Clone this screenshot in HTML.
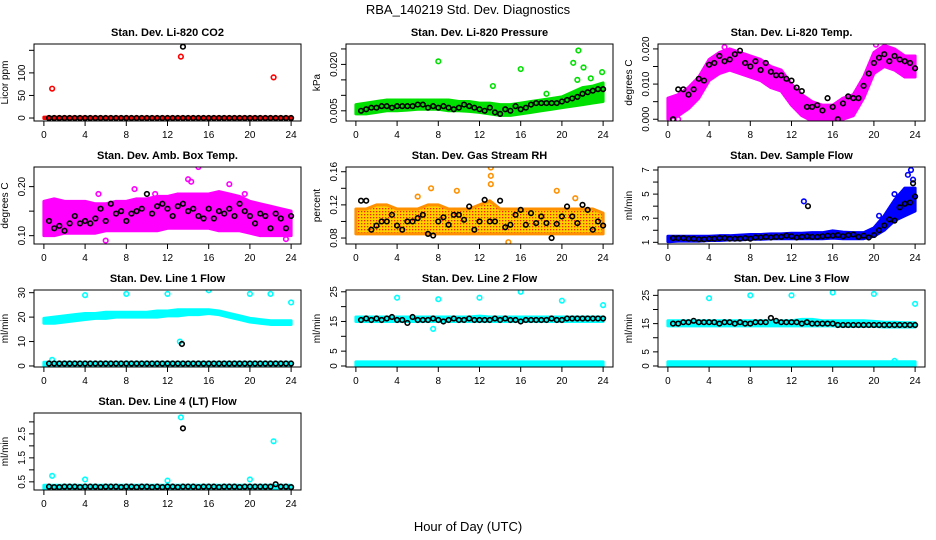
<!DOCTYPE html>
<html><head><meta charset="utf-8">
<style>
html,body{margin:0;padding:0;background:#fff;}
svg{display:block;font-family:"Liberation Sans",sans-serif;}
</style></head>
<body>
<svg id="chart" width="936" height="540" viewBox="0 0 936 540">
<text x="468" y="14" text-anchor="middle" font-size="13">RBA_140219  Std. Dev. Diagnostics</text>
<text x="468" y="531" text-anchor="middle" font-size="13">Hour of Day (UTC)</text>
<defs>
<pattern id="rhpat" width="3" height="3" patternUnits="userSpaceOnUse">
<rect width="3" height="3" fill="#ffd000"/><rect x="1" y="1" width="1.3" height="1.3" fill="#ff2000"/>
</pattern>
</defs>
</svg>
<script>
// ---------- data ----------
const hours = [0,1,2,3,4,5,6,7,8,9,10,11,12,13,14,15,16,17,18,19,20,21,22,23,24];
const xTicks = [0,4,8,12,16,20,24];

const co2Lo = [-1,-1,-1,-1,-1,-1,-1,-1,-1,-1,-1,-1,-1,-1,-1,-1,-1,-1,-1,-1,-1,-1,-1,-1,-1];
const co2Hi = [2,2,2,2,2,2,2,2,2,2,2,2,2,2,2,2,2,2,2,2,2,2,2,2,2];
const co2Black = [0,0,0,0,0,0,0,0,0,0,0,0,0,0,0,0,0,0,0,0,0,0,0,0,0,0,0,0,0,0,0,0,0,0,0,0,0,0,0,0,0,0,0,0,0,0,0,0];
const co2OutH = [0.8,13.3,22.3];
const co2OutV = [65,136,90];
const co2BOutH = [13.5];
const co2BOutV = [158];

const presLo = [0.004,0.004,0.0045,0.005,0.005,0.0052,0.0055,0.0055,0.0055,0.005,0.005,0.0048,0.0045,0.004,0.0035,0.0035,0.004,0.0045,0.005,0.0055,0.006,0.0065,0.007,0.0075,0.008];
const presHi = [0.007,0.0075,0.008,0.0085,0.0085,0.0085,0.0085,0.0085,0.0085,0.0085,0.008,0.008,0.0075,0.0075,0.007,0.007,0.0075,0.008,0.0085,0.009,0.0095,0.011,0.0125,0.013,0.014];
const presBlack = [0.005,0.0055,0.006,0.006,0.0065,0.0065,0.006,0.0065,0.0065,0.0065,0.0065,0.007,0.007,0.006,0.0065,0.006,0.0065,0.006,0.0055,0.006,0.007,0.0065,0.006,0.0055,0.005,0.006,0.0045,0.004,0.0055,0.005,0.0065,0.0055,0.006,0.007,0.0075,0.0075,0.0075,0.0075,0.0075,0.008,0.0085,0.009,0.0095,0.0105,0.011,0.0115,0.012,0.012];
const presOutH = [8,13.3,16,21.1,21.6,22.1,23.9,21.5,22.8,18.5];
const presOutV = [0.021,0.013,0.0185,0.0205,0.0245,0.019,0.0175,0.015,0.0155,0.0105];

const tempLo = [0.0,0.001,0.003,0.006,0.011,0.013,0.014,0.013,0.012,0.011,0.009,0.008,0.004,0.001,-0.0005,-0.0005,-0.0005,0.0,0.001,0.006,0.013,0.015,0.014,0.012,0.012];
const tempHi = [0.006,0.007,0.009,0.012,0.017,0.019,0.020,0.019,0.018,0.017,0.015,0.014,0.010,0.007,0.005,0.004,0.004,0.006,0.007,0.012,0.019,0.021,0.020,0.018,0.018];
const tempBlack = [0.000,0.0085,0.0085,0.007,0.0085,0.0115,0.011,0.0155,0.016,0.018,0.0165,0.017,0.0185,0.0195,0.016,0.015,0.0165,0.014,0.016,0.0135,0.0125,0.0125,0.0115,0.011,0.009,0.008,0.0035,0.0035,0.004,0.0025,0.006,0.0035,0.0000,0.0045,0.0065,0.006,0.006,0.0095,0.013,0.016,0.0175,0.0185,0.0165,0.018,0.017,0.0165,0.016,0.0145];
const tempOutH = [0.5,1.0,14.5,15.8,16.5,5.5,20.2];
const tempOutV = [0.0,0.0,0.0,0.0,0.0,0.0205,0.0212];

const ambLo = [0.10,0.10,0.105,0.105,0.105,0.105,0.11,0.11,0.11,0.11,0.11,0.11,0.115,0.115,0.115,0.115,0.115,0.11,0.11,0.11,0.105,0.10,0.10,0.10,0.10];
const ambHi = [0.17,0.175,0.17,0.17,0.17,0.165,0.165,0.17,0.17,0.175,0.175,0.18,0.18,0.185,0.185,0.185,0.185,0.19,0.185,0.18,0.17,0.165,0.16,0.155,0.15];
const ambBlack = [0.13,0.115,0.12,0.11,0.125,0.14,0.125,0.13,0.125,0.135,0.155,0.13,0.165,0.145,0.15,0.13,0.145,0.15,0.155,0.185,0.145,0.16,0.165,0.155,0.14,0.16,0.165,0.15,0.155,0.14,0.135,0.155,0.135,0.15,0.145,0.155,0.14,0.165,0.15,0.14,0.125,0.145,0.14,0.115,0.145,0.135,0.115,0.14];
const ambOutH = [14,14.3,15,18,6,23.5,0.5,8.8,19.5,5.3,10.8];
const ambOutV = [0.215,0.21,0.24,0.205,0.09,0.093,0.105,0.195,0.185,0.185,0.185];

const rhLo = [0.085,0.085,0.085,0.085,0.085,0.085,0.085,0.085,0.085,0.085,0.085,0.085,0.085,0.085,0.085,0.085,0.085,0.085,0.085,0.085,0.085,0.085,0.085,0.085,0.085];
const rhHi = [0.115,0.115,0.12,0.12,0.115,0.115,0.115,0.12,0.12,0.115,0.115,0.115,0.12,0.125,0.115,0.115,0.115,0.115,0.115,0.115,0.115,0.115,0.115,0.115,0.11];
const rhBlack = [0.125,0.125,0.09,0.095,0.1,0.1,0.108,0.095,0.09,0.1,0.1,0.104,0.108,0.085,0.083,0.1,0.105,0.096,0.108,0.108,0.102,0.118,0.09,0.1,0.126,0.1,0.1,0.125,0.093,0.096,0.108,0.114,0.096,0.11,0.098,0.106,0.098,0.08,0.097,0.106,0.118,0.106,0.098,0.12,0.114,0.09,0.1,0.095];
const rhOutH = [13.1,13.1,13.1,7.3,9.8,19.5,14.8,6,21.3];
const rhOutV = [0.165,0.155,0.145,0.14,0.137,0.137,0.075,0.13,0.128];

const flowLo = [1.05,1.1,1.1,1.1,1.15,1.15,1.2,1.2,1.25,1.25,1.3,1.3,1.3,1.3,1.3,1.3,1.35,1.3,1.3,1.3,1.5,2.0,2.8,3.2,3.6];
const flowHi = [1.5,1.5,1.5,1.5,1.5,1.55,1.55,1.6,1.65,1.65,1.7,1.7,1.75,1.75,1.8,1.8,1.95,1.85,1.8,1.8,2.2,3.2,4.5,5.5,5.5];
const flowBlack = [1.35,1.35,1.35,1.3,1.3,1.25,1.25,1.3,1.3,1.35,1.35,1.3,1.3,1.3,1.35,1.3,1.4,1.4,1.45,1.4,1.45,1.45,1.55,1.5,1.4,1.45,1.5,1.45,1.45,1.5,1.55,1.55,1.6,1.5,1.6,1.65,1.45,1.55,1.4,1.6,2.0,2.4,2.9,2.8,3.9,4.2,4.3,4.8];
const flowOutH = [13.2,23.6,23.3,20.5,23.8,22.0];
const flowOutV = [4.4,7.0,6.6,3.2,6.2,5.0];
const flowBOutH = [13.6,23.8];
const flowBOutV = [4.0,5.9];

const l1Lo = [17.5,17.5,18,18.5,19,19.5,19.5,20,20,20,20,20,20.5,20.5,21,21,21.5,21,20,19,18,17.5,17,17,17];
const l1Hi = [19.5,20,20.5,21,21.5,21.5,22,22,22,22,22,22.5,22.5,23,23,23,23,22.5,21.5,20.5,19.5,19,18.5,18.5,18.5];
const l1Lo2 = [0,0,0,0,0,0,0,0,0,0,0,0,0,0,0,0,0,0,0,0,0,0,0,0,0];
const l1Hi2 = [1.5,1.5,1.5,1.5,1.5,1.5,1.5,1.5,1.5,1.5,1.5,1.5,1.5,1.5,1.5,1.5,1.5,1.5,1.5,1.5,1.5,1.5,1.5,1.5,1.5];
const l1Black = [1,1,1,1,1,1,1,1,1,1,1,1,1,1,1,1,1,1,1,1,1,1,1,1,1,1,1,1,1,1,1,1,1,1,1,1,1,1,1,1,1,1,1,1,1,1,1,1];
const l1OutH = [4,8,12,16,20,22,24,0.8,13.2];
const l1OutV = [29,29.5,29.5,31,29.5,29.5,26,2.5,10];
const l1BOutH = [13.4];
const l1BOutV = [9];

const l2Lo = [15,15,15,15,15,15,15,15,15,15,15,15,15,15,15,15,15,15,15,15,15,15,15,15,15];
const l2Hi = [16.5,16.5,16.5,16.5,16.5,16.5,16.5,16.5,16.5,16.5,16.5,16.5,16.8,16.5,16.5,16.5,16.5,16.5,16.5,16.5,16.5,16.5,16.5,16.5,16.5];
const l2Lo2 = [0,0,0,0,0,0,0,0,0,0,0,0,0,0,0,0,0,0,0,0,0,0,0,0,0];
const l2Hi2 = [1.4,1.4,1.4,1.4,1.4,1.4,1.4,1.4,1.4,1.4,1.4,1.4,1.4,1.4,1.4,1.4,1.4,1.4,1.4,1.4,1.4,1.4,1.4,1.4,1.4];
const l2Black = [15.5,16,15.5,16,15.5,16,16.5,15.5,15.5,14.5,16.5,15.5,15.5,15.5,16,15.5,15,15.5,16,15.5,15.5,16,15.5,15.5,15.5,15.5,16,15.5,16,15.5,15.5,15,15.5,15.5,15.5,15.5,15.5,16,15.5,15.5,16,16,16,16,16,16,16,16];
const l2OutH = [4,8,12,16,20,24,7.5];
const l2OutV = [23,22.5,23,25,22,20.5,12.5];

const l3Lo = [14.2,14.2,14.2,14.2,14.2,14.2,14.2,14.2,14.2,14.2,14.2,14.2,14.2,14.2,14.2,14.2,14.2,14,14,14,14,13.8,13.8,13.8,13.8];
const l3Hi = [16,16,16,16,16,16,16,16,16,16,16,16,16,16.5,16.5,16,16,16,16,16,15.8,15.5,15.5,15.3,15.3];
const l3Lo2 = [0,0,0,0,0,0,0,0,0,0,0,0,0,0,0,0,0,0,0,0,0,0,0,0,0];
const l3Hi2 = [1.5,1.5,1.5,1.5,1.5,1.5,1.5,1.5,1.5,1.5,1.5,1.5,1.5,1.5,1.5,1.5,1.5,1.5,1.5,1.5,1.5,1.5,1.5,1.5,1.5];
const l3Black = [15,15,15.5,15.5,16,15.5,15.5,15.5,15.5,15,15.5,15.5,15,15.5,15,15,15.5,15.5,15.5,17,16,15.5,15.5,15.5,15.5,15,15.5,15,15,15,15,15,14.5,14.5,14.5,14.5,14.5,14.5,14.5,14.5,14.5,14.5,14.5,14.5,14.5,14.5,14.5,14.5];
const l3OutH = [4,8,12,16,20,24,22];
const l3OutV = [24,25,25,26,25.5,22,1.8];

const l4Lo = [0.2,0.2,0.2,0.2,0.2,0.2,0.2,0.2,0.2,0.2,0.2,0.2,0.2,0.2,0.2,0.2,0.2,0.2,0.2,0.2,0.2,0.2,0.2,0.2,0.2];
const l4Hi = [0.36,0.36,0.36,0.36,0.36,0.36,0.36,0.36,0.36,0.36,0.36,0.36,0.36,0.36,0.36,0.36,0.36,0.36,0.36,0.36,0.36,0.36,0.36,0.36,0.36];
const l4Black = [0.3,0.28,0.28,0.3,0.3,0.3,0.28,0.3,0.3,0.3,0.28,0.3,0.3,0.3,0.28,0.3,0.3,0.28,0.3,0.3,0.28,0.3,0.28,0.3,0.3,0.28,0.3,0.3,0.3,0.28,0.3,0.3,0.3,0.28,0.3,0.3,0.3,0.28,0.3,0.3,0.3,0.3,0.3,0.3,0.4,0.3,0.3,0.28];
const l4OutH = [0.8,4,12,13.3,20,22.3];
const l4OutV = [0.75,0.6,0.55,3.19,0.6,2.19];
const l4BOutH = [13.5];
const l4BOutV = [2.73];

// ---------- panel configuration ----------
const panels = [
 {name:'co2',title:'Stan. Dev. Li-820 CO2',ylab:'Licor ppm',yr:[-6.6,164],ticks:[0,50,100,150],labs:['0','50','100',''],
  color:'#ff0000',bands:[[co2Lo,co2Hi]],black:co2Black,outH:co2OutH,outV:co2OutV,bH:co2BOutH,bV:co2BOutV},
 {name:'pressure',title:'Stan. Dev. Li-820 Pressure',ylab:'kPa',yr:[0.0017,0.0266],ticks:[0.005,0.010,0.015,0.020,0.025],labs:['0.005','','','0.020',''],
  color:'#00e000',bands:[[presLo,presHi]],black:presBlack,outH:presOutH,outV:presOutV},
 {name:'temp',title:'Stan. Dev. Li-820 Temp.',ylab:'degrees C',yr:[-0.0005,0.0214],ticks:[0,0.005,0.010,0.015,0.020],labs:['0.000','','0.010','','0.020'],
  color:'#ff00ff',bands:[[tempLo,tempHi]],black:tempBlack,outH:tempOutH,outV:tempOutV},
 {name:'amb-box-temp',title:'Stan. Dev. Amb. Box Temp.',ylab:'degrees C',yr:[0.083,0.240],ticks:[0.10,0.15,0.20],labs:['0.10','','0.20'],
  color:'#ff00ff',bands:[[ambLo,ambHi]],black:ambBlack,outH:ambOutH,outV:ambOutV},
 {name:'gas-rh',title:'Stan. Dev. Gas Stream RH',ylab:'percent',yr:[0.0728,0.1657],ticks:[0.08,0.10,0.12,0.14,0.16],labs:['0.08','','0.12','','0.16'],
  color:'#ff9000',fill:'url(#rhpat)',bands:[[rhLo,rhHi]],black:rhBlack,outH:rhOutH,outV:rhOutV},
 {name:'sample-flow',title:'Stan. Dev. Sample Flow',ylab:'ml/min',yr:[0.86,7.25],ticks:[1,2,3,4,5,6,7],labs:['1','','3','','5','','7'],
  color:'#0000ff',bands:[[flowLo,flowHi]],black:flowBlack,outH:flowOutH,outV:flowOutV,bH:flowBOutH,bV:flowBOutV},
 {name:'line1-flow',title:'Stan. Dev. Line 1 Flow',ylab:'ml/min',yr:[-0.42,31.1],ticks:[0,10,20,30],labs:['0','10','20','30'],
  color:'#00ffff',bands:[[l1Lo,l1Hi],[l1Lo2,l1Hi2]],black:l1Black,outH:l1OutH,outV:l1OutV,bH:l1BOutH,bV:l1BOutV},
 {name:'line2-flow',title:'Stan. Dev. Line 2 Flow',ylab:'ml/min',yr:[-0.34,25.6],ticks:[0,5,10,15,20,25],labs:['0','5','','15','','25'],
  color:'#00ffff',bands:[[l2Lo,l2Hi],[l2Lo2,l2Hi2]],black:l2Black,outH:l2OutH,outV:l2OutV},
 {name:'line3-flow',title:'Stan. Dev. Line 3 Flow',ylab:'ml/min',yr:[-0.36,26.9],ticks:[0,5,10,15,20,25],labs:['0','5','','15','','25'],
  color:'#00ffff',bands:[[l3Lo,l3Hi],[l3Lo2,l3Hi2]],black:l3Black,outH:l3OutH,outV:l3OutV},
 {name:'line4-flow',title:'Stan. Dev. Line 4 (LT) Flow',ylab:'ml/min',yr:[0.16,3.37],ticks:[0.5,1.0,1.5,2.0,2.5,3.0],labs:['0.5','','1.5','','2.5',''],
  color:'#00ffff',bands:[[l4Lo,l4Hi]],black:l4Black,outH:l4OutH,outV:l4OutV,bH:l4BOutH,bV:l4BOutV}
];

// ---------- rendering ----------
const svg = document.getElementById('chart');
const NS = 'http://www.w3.org/2000/svg';
function mk(tag, attrs, parent){
  const e = document.createElementNS(NS, tag);
  for (const k in attrs) e.setAttribute(k, attrs[k]);
  (parent||svg).appendChild(e);
  return e;
}

panels.forEach((p, idx) => {
  const col = idx % 3, row = Math.floor(idx / 3);
  const L = 34 + 312*col, T = 44 + 123*row, W = 267, H = 77;
  const x0 = -0.96, x1 = 24.96;
  const xs = h => L + (h - x0) / (x1 - x0) * W;
  const ys = v => T + H - (v - p.yr[0]) / (p.yr[1] - p.yr[0]) * H;

  const g = mk('g', {});
  
  
  const clipId = 'clip' + idx;
  const cp = mk('clipPath', {id: clipId}, g);
  mk('rect', {x: L, y: T, width: W, height: H}, cp);

  const t = mk('text', {x: L + W/2, y: T - 8, 'text-anchor': 'middle', 'font-size': 11, 'font-weight': 'bold'}, g);
  t.textContent = p.title;
  
  

  const yl = mk('text', {x: 0, y: 0, 'text-anchor': 'middle', 'font-size': 10, transform: `translate(${L-26},${T+H/2}) rotate(-90)`}, g);
  yl.textContent = p.ylab;
  
  

  const data = mk('g', {'clip-path': `url(#${clipId})`}, g);
  // dense cloud bands
  p.bands.forEach((b, bi) => {
    const lo = b[0], hi = b[1];
    let pts = [];
    hours.forEach((h, i) => pts.push(xs(h) + ',' + ys(hi[i])));
    for (let i = hours.length - 1; i >= 0; i--) pts.push(xs(hours[i]) + ',' + ys(lo[i]));
    const poly = mk('polygon', {points: pts.join(' '), fill: p.fill || p.color, stroke: p.color, 'stroke-width': 3, 'stroke-linejoin': 'round'}, data);
    
    
  });
  // colored outliers
  p.outH.forEach((h, i) => {
    const c = mk('circle', {cx: xs(h), cy: ys(p.outV[i]), r: 2.3, fill: 'none', stroke: p.color, 'stroke-width': 1.6}, data);
    
    
  });
  // black half-hourly points
  const n = p.black.length;
  p.black.forEach((v, i) => {
    const h = (i + 1) * 24 / n;
    const c = mk('circle', {cx: xs(h), cy: ys(v), r: 2.3, fill: 'none', stroke: '#000', 'stroke-width': 1.6}, data);
    
    
  });
  if (p.bH) p.bH.forEach((h, i) => {
    const c = mk('circle', {cx: xs(h), cy: ys(p.bV[i]), r: 2.3, fill: 'none', stroke: '#000', 'stroke-width': 1.6}, data);
    
    
  });

  // box
  const box = mk('rect', {x: L, y: T, width: W, height: H, fill: 'none', stroke: '#000', 'stroke-width': 1}, g);
  
  

  // x axis
  xTicks.forEach(h => {
    mk('line', {x1: xs(h), x2: xs(h), y1: T + H, y2: T + H + 5, stroke: '#000'}, g);
    const tl = mk('text', {x: xs(h), y: T + H + 17, 'text-anchor': 'middle', 'font-size': 10}, g);
    tl.textContent = h;
    
    
  });
  // y axis
  p.ticks.forEach((v, i) => {
    mk('line', {x1: L - 5, x2: L, y1: ys(v), y2: ys(v), stroke: '#000'}, g);
    if (p.labs[i]) {
      const tl = mk('text', {x: 0, y: 0, 'text-anchor': 'middle', 'font-size': 10, transform: `translate(${L-9},${ys(v)}) rotate(-90)`}, g);
      tl.textContent = p.labs[i];
      
      
    }
  });
});
</script>
</body></html>
